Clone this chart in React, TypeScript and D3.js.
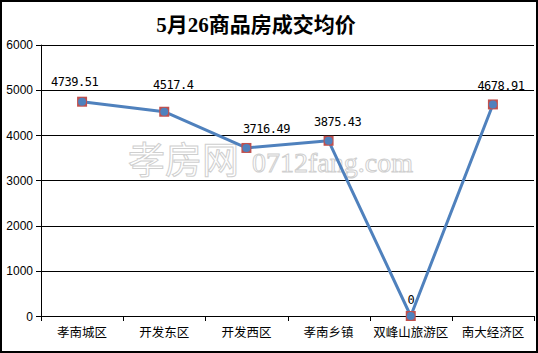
import React from "react";
import * as d3 from "d3";

const categories = ["孝南城区", "开发东区", "开发西区", "孝南乡镇", "双峰山旅游区", "南大经济区"];
const values = [4739.51, 4517.4, 3716.49, 3875.43, 0, 4678.91];
const valueLabels = ["4739.51", "4517.4", "3716.49", "3875.43", "0", "4678.91"];
const yTicks = [0, 1000, 2000, 3000, 4000, 5000, 6000];
const title = "5月26商品房成交均价";

// label placement nudges (px) relative to each point, as in the reference
const labelDx = [-7.5, 9, 20, 9, 0, 8];
const labelDy = [-15.5, -23, -15, -14.5, -12, -14.5];

const W = 538;
const H = 353;
const left = 41;
const right = 534;
const top = 44.7;
const bottom = 316;

export default function App() {
  const x = d3.scaleBand<string>().domain(categories).range([left, right]).padding(0);
  const y = d3.scaleLinear().domain([0, 6000]).range([bottom, top]);
  const cx = (c: string) => (x(c) as number) + x.bandwidth() / 2;
  const line = d3
    .line<number>()
    .x((_, i) => cx(categories[i]))
    .y((v) => y(v));
  const tickXs = categories.map((c) => x(c) as number).concat([right]);

  return (
    <svg
      width={W}
      height={H}
      style={{ position: "fixed", left: 0, top: 0, background: "#fff" }}
      fontFamily="'Liberation Sans', Arial, sans-serif"
    >
      <rect x={1} y={1} width={W - 2} height={H - 2} fill="#fff" stroke="#000" strokeWidth={2} />
      <text
        x={256}
        y={32}
        textAnchor="middle"
        fontSize={21}
        fontWeight="bold"
        fontFamily="'Liberation Serif', 'Noto Sans CJK SC', serif"
      >
        {title}
      </text>

      {/* watermark */}
      <g fill="#fff" stroke="#cfcfcf" strokeWidth={1}>
        <text x={128} y={174} fontSize={37} fontFamily="'Noto Sans CJK SC', sans-serif">
          孝房网
        </text>
        <text x={252} y={172} fontSize={28} fontFamily="'Liberation Serif', serif">
          0712fang.com
        </text>
      </g>

      {yTicks.map((t) => (
        <g key={t}>
          <line x1={left - 5} x2={right} y1={Math.round(y(t)) + 0.5} y2={Math.round(y(t)) + 0.5} stroke="#000" strokeWidth={1} />
          <text x={33} y={y(t) + 4.5} textAnchor="end" fontSize={12}>
            {t}
          </text>
        </g>
      ))}
      <line x1={left + 0.5} x2={left + 0.5} y1={top} y2={bottom} stroke="#000" strokeWidth={1} />
      {tickXs.map((tx, i) => (
        <line key={i} x1={Math.round(tx) + 0.5} x2={Math.round(tx) + 0.5} y1={bottom} y2={bottom + 5} stroke="#000" strokeWidth={1} />
      ))}
      {categories.map((c) => (
        <text
          key={c}
          x={cx(c)}
          y={337}
          textAnchor="middle"
          fontSize={12.5}
          fontFamily="'Noto Sans CJK SC', sans-serif"
        >
          {c}
        </text>
      ))}

      <path d={line(values) || ""} fill="none" stroke="#4F81BD" strokeWidth={3} strokeLinejoin="round" />
      {values.map((v, i) => (
        <g key={i}>
          <rect x={cx(categories[i]) - 5} y={y(v) - 5} width={10} height={10} fill="#C0504D" />
          <circle cx={cx(categories[i])} cy={y(v)} r={4} fill="#4F81BD" />
        </g>
      ))}
      {values.map((v, i) => (
        <text
          key={i}
          x={cx(categories[i]) + labelDx[i]}
          y={y(v) + labelDy[i]}
          textAnchor="middle"
          fontSize={12}
          fontFamily="'DejaVu Sans Mono', monospace"
          letterSpacing={-0.5}
        >
          {valueLabels[i]}
        </text>
      ))}
    </svg>
  );
}
